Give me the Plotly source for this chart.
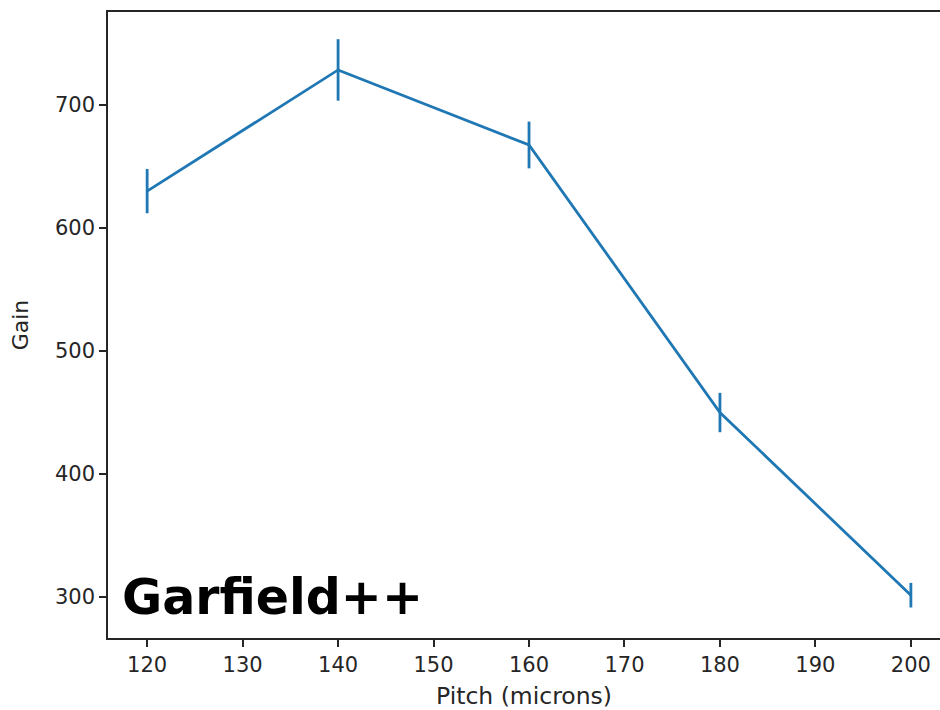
import plotly.graph_objects as go

pitch = [120, 140, 160, 180, 200]
gain = [630, 728.5, 667.5, 450, 301.5]
gain_err = [18, 25, 19, 16, 10]
x_ticks = [120, 130, 140, 150, 160, 170, 180, 190, 200]
y_ticks = [300, 400, 500, 600, 700]

fig = go.Figure()
fig.add_trace(go.Scatter(
    x=pitch, y=gain, mode="lines",
    line=dict(color="#1f77b4", width=2.8),
    error_y=dict(type="data", array=gain_err, visible=True,
                 color="#1f77b4", thickness=2.8, width=0),
    showlegend=False,
))

font_family = "DejaVu Sans"
fig.update_layout(
    width=940, height=710,
    margin=dict(l=108, r=0, t=12, b=72),
    paper_bgcolor="white", plot_bgcolor="white",
    font=dict(family=font_family, color="#262626"),
)
fig.update_xaxes(
    range=[115.9, 203.05], tickmode="array", tickvals=x_ticks,
    ticks="outside", ticklen=7, tickwidth=1.5, tickcolor="#262626",
    tickfont=dict(size=21, color="#262626"),
    showline=True, linecolor="#262626", linewidth=1.5, mirror=True,
    showgrid=False, zeroline=False,
    title=dict(text="Pitch (microns)", font=dict(size=23.5, color="#262626"), standoff=15),
)
fig.update_yaxes(
    range=[266.7, 775.6], tickmode="array", tickvals=y_ticks,
    ticks="outside", ticklen=7, tickwidth=1.5, tickcolor="#262626",
    tickfont=dict(size=21, color="#262626"),
    showline=True, linecolor="#262626", linewidth=1.5,
    showgrid=False, zeroline=False,
    title=dict(text="Gain", font=dict(size=22, color="#262626"), standoff=20),
)
fig.add_annotation(
    text="Garfield++", xref="paper", yref="paper",
    x=0.014, y=0.064, xanchor="left", yanchor="middle",
    showarrow=False,
    font=dict(family="DejaVu Sans", size=49, color="black", weight="bold"),
)
fig.write_html("out.html")
